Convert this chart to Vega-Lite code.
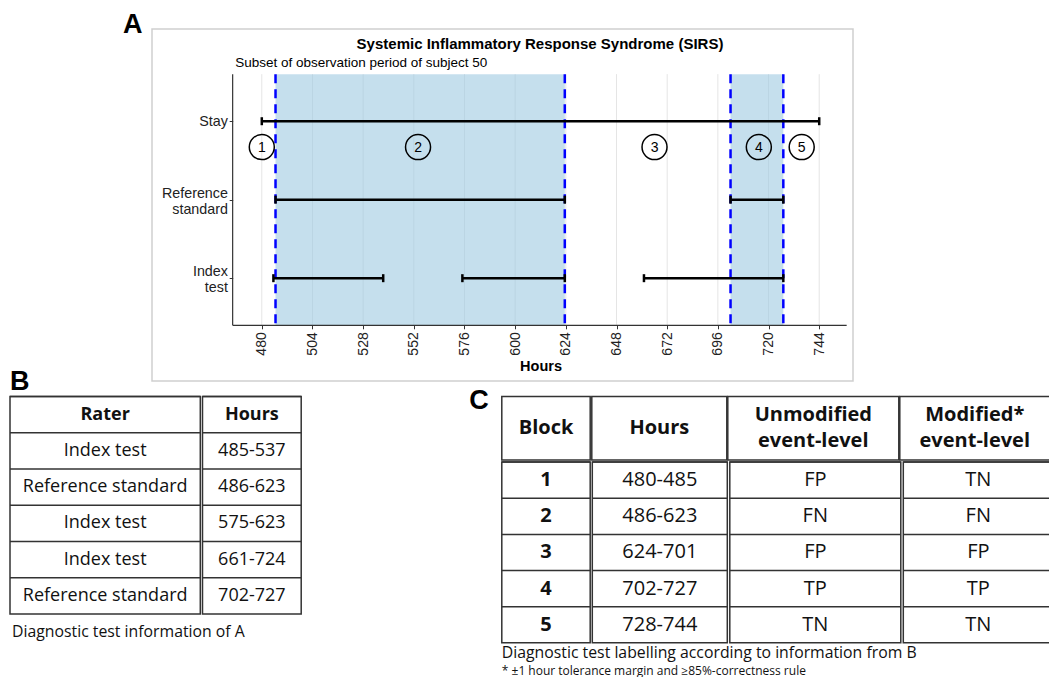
{
  "$schema": "https://vega.github.io/schema/vega-lite/v6.json",
  "background": "white",
  "padding": {"left": 8, "top": 10, "right": 0, "bottom": 0},
  "config": {"view": {"stroke": null}, "font": "Liberation Sans"},
  "datasets": {
    "ticks": [{"hour": 480}, {"hour": 504}, {"hour": 528}, {"hour": 552}, {"hour": 576}, {"hour": 600}, {"hour": 624}, {"hour": 648}, {"hour": 672}, {"hour": 696}, {"hour": 720}, {"hour": 744}],
    "intervals": [
      {"rater": "Stay", "start": 480, "end": 744},
      {"rater": "Reference standard", "start": 486.5, "end": 623.5},
      {"rater": "Reference standard", "start": 702, "end": 727},
      {"rater": "Index test", "start": 485.5, "end": 537.5},
      {"rater": "Index test", "start": 575, "end": 623.5},
      {"rater": "Index test", "start": 661, "end": 727}
    ],
    "blocks": [{"block": "1", "hour": 480}, {"block": "2", "hour": 554}, {"block": "3", "hour": 666}, {"block": "4", "hour": 715.4}, {"block": "5", "hour": 735.7}],
    "tableB": [
      {"r": 0, "rater": "Rater", "hours": "Hours"},
      {"r": 1, "rater": "Index test", "hours": "485-537"},
      {"r": 2, "rater": "Reference standard", "hours": "486-623"},
      {"r": 3, "rater": "Index test", "hours": "575-623"},
      {"r": 4, "rater": "Index test", "hours": "661-724"},
      {"r": 5, "rater": "Reference standard", "hours": "702-727"}
    ],
    "headC": [
      {"col": "block", "label": "Block"},
      {"col": "hours", "label": "Hours"},
      {"col": "unmod", "label": "Unmodified\nevent-level"},
      {"col": "mod", "label": "Modified*\nevent-level"}
    ],
    "tableC": [
      {"block": "1", "hours": "480-485", "unmod": "FP", "mod": "TN"},
      {"block": "2", "hours": "486-623", "unmod": "FN", "mod": "FN"},
      {"block": "3", "hours": "624-701", "unmod": "FP", "mod": "FP"},
      {"block": "4", "hours": "702-727", "unmod": "TP", "mod": "TP"},
      {"block": "5", "hours": "728-744", "unmod": "TN", "mod": "TN"}
    ]
  },
  "spacing": -14.4,
  "vconcat": [
    {
      "spacing": 20,
      "hconcat": [
        {"width": 92, "height": 1, "data": {"values": [{}]}, "mark": {"type": "text", "text": ""}, "encoding": {}, "view": {"stroke": "transparent"}},
        {
          "title": {"text": "A", "anchor": "start", "frame": "group", "dx": -28.9, "offset": -31.65, "baseline": "alphabetic", "font": "Liberation Sans", "fontSize": 27, "fontWeight": "bold", "color": "#000"},
          "vconcat": [
            {
              "width": 701,
              "height": 352,
              "view": {"stroke": "#cfcfcf", "strokeWidth": 1.5},
              "title": {"text": "Systemic Inflammatory Response Syndrome (SIRS)", "anchor": "middle", "frame": "group", "dx": 37.5, "offset": -35.15, "baseline": "alphabetic", "font": "Liberation Sans", "fontSize": 15, "fontWeight": "bold", "color": "#000"},
              "resolve": {"axis": {"x": "independent", "y": "independent"}},
              "layer": [
                {
                  "data": {"name": "ticks"},
                  "mark": {"type": "rule", "color": "#e5e5e5", "strokeWidth": 1},
                  "encoding": {
                    "x": {"field": "hour", "type": "quantitative", "scale": {"domain": [428, 760], "nice": false, "zero": false}, "axis": null},
                    "y": {"datum": 0.4, "type": "quantitative", "scale": {"domain": [-0.175, 4.31], "reverse": true, "nice": false, "zero": false}, "axis": null},
                    "y2": {"datum": 3.6}
                  }
                },
                {
                  "data": {"name": "intervals"},
                  "transform": [{"filter": "datum.rater === 'Reference standard'"}],
                  "mark": {"type": "rect", "color": "#9ecae1", "opacity": 0.6},
                  "encoding": {
                    "x": {"field": "start", "type": "quantitative", "scale": {"domain": [428, 760], "nice": false, "zero": false}, "axis": null},
                    "x2": {"field": "end"},
                    "y": {"datum": 0.4, "type": "quantitative", "scale": {"domain": [-0.175, 4.31], "reverse": true, "nice": false, "zero": false}, "axis": null},
                    "y2": {"datum": 3.6}
                  }
                },
                {
                  "data": {"name": "intervals"},
                  "transform": [{"filter": "datum.rater === 'Reference standard'"}],
                  "mark": {"type": "rule", "color": "#0000ff", "strokeWidth": 2.5, "strokeDash": [9, 6]},
                  "encoding": {
                    "x": {"field": "start", "type": "quantitative", "scale": {"domain": [428, 760], "nice": false, "zero": false}, "axis": null},
                    "y": {"datum": 0.4, "type": "quantitative", "scale": {"domain": [-0.175, 4.31], "reverse": true, "nice": false, "zero": false}, "axis": null},
                    "y2": {"datum": 3.6}
                  }
                },
                {
                  "data": {"name": "intervals"},
                  "transform": [{"filter": "datum.rater === 'Reference standard'"}],
                  "mark": {"type": "rule", "color": "#0000ff", "strokeWidth": 2.5, "strokeDash": [9, 6]},
                  "encoding": {
                    "x": {"field": "end", "type": "quantitative", "scale": {"domain": [428, 760], "nice": false, "zero": false}, "axis": null},
                    "y": {"datum": 0.4, "type": "quantitative", "scale": {"domain": [-0.175, 4.31], "reverse": true, "nice": false, "zero": false}, "axis": null},
                    "y2": {"datum": 3.6}
                  }
                },
                {
                  "data": {"values": [{}]},
                  "mark": {"type": "rule", "color": "#333333", "strokeWidth": 1.2},
                  "encoding": {
                    "x": {"datum": 466.2, "type": "quantitative", "scale": {"domain": [428, 760], "nice": false, "zero": false}, "axis": null},
                    "y": {"datum": 0.4, "type": "quantitative", "scale": {"domain": [-0.175, 4.31], "reverse": true, "nice": false, "zero": false}, "axis": null},
                    "y2": {"datum": 3.6}
                  }
                },
                {
                  "data": {"values": [{}]},
                  "mark": {"type": "rule", "color": "#333333", "strokeWidth": 1.2},
                  "encoding": {
                    "x": {"datum": 466.2, "type": "quantitative", "scale": {"domain": [428, 760], "nice": false, "zero": false}, "axis": null},
                    "x2": {"datum": 757},
                    "y": {"datum": 3.6, "type": "quantitative", "scale": {"domain": [-0.175, 4.31], "reverse": true, "nice": false, "zero": false}, "axis": null}
                  }
                },
                {
                  "data": {"name": "intervals"},
                  "transform": [{"calculate": "indexof(['Stay', 'Reference standard', 'Index test'], datum.rater) + 1", "as": "lane"}],
                  "mark": {"type": "rule", "color": "#000000", "strokeWidth": 2.5},
                  "encoding": {
                    "x": {
                      "field": "start", "type": "quantitative",
                      "scale": {"domain": [428, 760], "nice": false, "zero": false},
                      "axis": {"orient": "bottom", "offset": -55.7, "values": [480, 504, 528, 552, 576, 600, 624, 648, 672, 696, 720, 744], "labelAngle": 270, "labelFont": "Liberation Sans", "labelFontSize": 14, "labelColor": "#222222", "labelPadding": 3, "labelFlush": false, "labelOverlap": false, "tickSize": 3.5, "tickColor": "#333333", "tickWidth": 1, "domain": false, "grid": false, "title": "Hours", "titleFont": "Liberation Sans", "titleFontSize": 14.5, "titleFontWeight": "bold", "titleColor": "#000000", "titleX": 388.5, "titleY": 45.1, "titleBaseline": "alphabetic", "titleAlign": "center"}
                    },
                    "x2": {"field": "end"},
                    "y": {
                      "field": "lane", "type": "quantitative",
                      "scale": {"domain": [-0.175, 4.31], "reverse": true, "nice": false, "zero": false},
                      "axis": {"orient": "left", "offset": -80.7, "values": [1, 2, 3], "labelExpr": "datum.value == 1 ? 'Stay' : datum.value == 2 ? ['Reference', 'standard'] : ['Index', 'test']", "labelOffset": {"condition": {"test": "datum.value != 1", "value": -6.5}, "value": 0}, "labelFont": "Liberation Sans", "labelFontSize": 14.3, "labelColor": "#222222", "labelLineHeight": 16, "labelPadding": 1.8, "labelBound": false, "labelOverlap": false, "labelFlush": false, "tickSize": 3.5, "tickColor": "#333333", "tickWidth": 1, "domain": false, "grid": false, "title": null}
                    }
                  }
                },
                {
                  "data": {"name": "intervals"},
                  "transform": [{"calculate": "indexof(['Stay', 'Reference standard', 'Index test'], datum.rater) + 1", "as": "lane"}],
                  "mark": {"type": "tick", "orient": "vertical", "color": "#000000", "size": 8, "thickness": 2.5, "opacity": 1},
                  "encoding": {
                    "x": {"field": "start", "type": "quantitative", "scale": {"domain": [428, 760], "nice": false, "zero": false}, "axis": null},
                    "y": {"field": "lane", "type": "quantitative", "scale": {"domain": [-0.175, 4.31], "reverse": true, "nice": false, "zero": false}, "axis": null}
                  }
                },
                {
                  "data": {"name": "intervals"},
                  "transform": [{"calculate": "indexof(['Stay', 'Reference standard', 'Index test'], datum.rater) + 1", "as": "lane"}],
                  "mark": {"type": "tick", "orient": "vertical", "color": "#000000", "size": 8, "thickness": 2.5, "opacity": 1},
                  "encoding": {
                    "x": {"field": "end", "type": "quantitative", "scale": {"domain": [428, 760], "nice": false, "zero": false}, "axis": null},
                    "y": {"field": "lane", "type": "quantitative", "scale": {"domain": [-0.175, 4.31], "reverse": true, "nice": false, "zero": false}, "axis": null}
                  }
                },
                {
                  "data": {"name": "blocks"},
                  "mark": {"type": "point", "shape": "circle", "size": 625, "filled": false, "stroke": "#000000", "strokeWidth": 1.5, "opacity": 1},
                  "encoding": {
                    "x": {
                      "field": "hour", "type": "quantitative",
                      "scale": {"domain": [428, 760], "nice": false, "zero": false},
                      "axis": {"orient": "top", "title": "Subset of observation period of subject 50", "labels": false, "ticks": false, "domain": false, "grid": false, "titleX": 82.7, "titleY": 37.5, "titleAlign": "left", "titleAnchor": "start", "titleBaseline": "alphabetic", "titleFont": "Liberation Sans", "titleFontSize": 13.5, "titleFontWeight": "normal", "titleColor": "#000000"}
                    },
                    "y": {"datum": 1.33, "type": "quantitative", "scale": {"domain": [-0.175, 4.31], "reverse": true, "nice": false, "zero": false}, "axis": null}
                  }
                },
                {
                  "data": {"name": "blocks"},
                  "mark": {"type": "text", "font": "Liberation Sans", "fontSize": 14, "color": "#000000", "baseline": "middle", "align": "center", "dy": 0.5},
                  "encoding": {
                    "x": {"field": "hour", "type": "quantitative", "scale": {"domain": [428, 760], "nice": false, "zero": false}, "axis": null},
                    "y": {"datum": 1.33, "type": "quantitative", "scale": {"domain": [-0.175, 4.31], "reverse": true, "nice": false, "zero": false}, "axis": null},
                    "text": {"field": "block"}
                  }
                }
              ]
            }
          ]
        }
      ]
    },
    {
      "spacing": 165.8,
      "hconcat": [
        {
          "title": {"text": "Diagnostic test information of A", "orient": "bottom", "anchor": "start", "frame": "group", "dx": 2, "offset": 22.6, "baseline": "alphabetic", "font": "Open Sans", "fontSize": 15.8, "fontWeight": "normal", "color": "#111111"},
          "vconcat": [
            {
              "title": {"text": "B", "anchor": "start", "frame": "group", "offset": -21.55, "baseline": "alphabetic", "font": "Liberation Sans", "fontSize": 27, "fontWeight": "bold", "color": "#000"},
              "spacing": -1.5,
              "hconcat": [
                {
                  "width": 190.3, "height": 217.3,
                  "data": {"name": "tableB"},
                  "view": {"stroke": "#333333", "strokeWidth": 1.5},
                  "layer": [
                    {"mark": {"type": "rule", "color": "#333333", "strokeWidth": 1.5}, "encoding": {"y": {"field": "r", "type": "ordinal", "bandPosition": 0, "scale": {"type": "band", "paddingInner": 0, "paddingOuter": 0}, "axis": null}}},
                    {"transform": [{"filter": "datum.r > 0"}], "mark": {"type": "text", "font": "Open Sans", "fontSize": 18, "color": "#111111", "baseline": "middle"}, "encoding": {"y": {"field": "r", "type": "ordinal", "bandPosition": 0.5, "scale": {"type": "band", "paddingInner": 0, "paddingOuter": 0}, "axis": null}, "text": {"field": "rater"}}},
                    {"transform": [{"filter": "datum.r == 0"}], "mark": {"type": "text", "font": "Open Sans", "fontSize": 18, "fontWeight": "bold", "color": "#111111", "baseline": "middle"}, "encoding": {"y": {"field": "r", "type": "ordinal", "bandPosition": 0.5, "scale": {"type": "band", "paddingInner": 0, "paddingOuter": 0}, "axis": null}, "text": {"field": "rater"}}}
                  ]
                },
                {
                  "width": 98.7, "height": 217.3,
                  "data": {"name": "tableB"},
                  "view": {"stroke": "#333333", "strokeWidth": 1.5},
                  "layer": [
                    {"mark": {"type": "rule", "color": "#333333", "strokeWidth": 1.5}, "encoding": {"y": {"field": "r", "type": "ordinal", "bandPosition": 0, "scale": {"type": "band", "paddingInner": 0, "paddingOuter": 0}, "axis": null}}},
                    {"transform": [{"filter": "datum.r > 0"}], "mark": {"type": "text", "font": "Open Sans", "fontSize": 18, "color": "#111111", "baseline": "middle"}, "encoding": {"y": {"field": "r", "type": "ordinal", "bandPosition": 0.5, "scale": {"type": "band", "paddingInner": 0, "paddingOuter": 0}, "axis": null}, "text": {"field": "hours"}}},
                    {"transform": [{"filter": "datum.r == 0"}], "mark": {"type": "text", "font": "Open Sans", "fontSize": 18, "fontWeight": "bold", "color": "#111111", "baseline": "middle"}, "encoding": {"y": {"field": "r", "type": "ordinal", "bandPosition": 0.5, "scale": {"type": "band", "paddingInner": 0, "paddingOuter": 0}, "axis": null}, "text": {"field": "hours"}}}
                  ]
                }
              ]
            }
          ]
        },
        {
          "title": {"text": "Diagnostic test labelling according to information from B", "subtitle": "* ±1 hour tolerance margin and ≥85%-correctness rule", "orient": "bottom", "anchor": "start", "frame": "group", "dx": 0, "offset": 14, "baseline": "alphabetic", "font": "Open Sans", "fontSize": 15.8, "fontWeight": "normal", "color": "#111111", "subtitleFont": "Open Sans", "subtitleFontSize": 12, "subtitleColor": "#111111", "subtitlePadding": 1.5},
          "vconcat": [
            {
              "title": {"text": "C", "anchor": "start", "frame": "group", "dx": -32.5, "offset": -39.85, "baseline": "alphabetic", "font": "Liberation Sans", "fontSize": 27, "fontWeight": "bold", "color": "#000"},
              "spacing": -1.5,
              "vconcat": [
                {
                  "spacing": -1.5,
                  "hconcat": [
                    {"width": 88.4, "height": 63.3, "data": {"name": "headC"}, "transform": [{"filter": "datum.col === 'block'"}], "view": {"stroke": "#333333", "strokeWidth": 1.5}, "mark": {"type": "text", "font": "Open Sans", "fontSize": 20, "fontWeight": "bold", "color": "#111111", "baseline": "middle"}, "encoding": {"text": {"field": "label"}}},
                    {"width": 135, "height": 63.3, "data": {"name": "headC"}, "transform": [{"filter": "datum.col === 'hours'"}], "view": {"stroke": "#333333", "strokeWidth": 1.5}, "mark": {"type": "text", "font": "Open Sans", "fontSize": 20, "fontWeight": "bold", "color": "#111111", "baseline": "middle"}, "encoding": {"text": {"field": "label"}}},
                    {"width": 171, "height": 63.3, "data": {"name": "headC"}, "transform": [{"filter": "datum.col === 'unmod'"}], "view": {"stroke": "#333333", "strokeWidth": 1.5}, "mark": {"type": "text", "font": "Open Sans", "fontSize": 20, "fontWeight": "bold", "color": "#111111", "baseline": "middle", "lineBreak": "\n", "lineHeight": 26, "dy": -13}, "encoding": {"text": {"field": "label"}}},
                    {"width": 150, "height": 63.3, "data": {"name": "headC"}, "transform": [{"filter": "datum.col === 'mod'"}], "view": {"stroke": "#333333", "strokeWidth": 1.5}, "mark": {"type": "text", "font": "Open Sans", "fontSize": 20, "fontWeight": "bold", "color": "#111111", "baseline": "middle", "lineBreak": "\n", "lineHeight": 26, "dy": -13}, "encoding": {"text": {"field": "label"}}}
                  ]
                },
                {
                  "spacing": -1.5,
                  "hconcat": [
                    {
                      "width": 88.4, "height": 180.7, "data": {"name": "tableC"}, "view": {"stroke": "#333333", "strokeWidth": 1.5},
                      "layer": [
                        {"mark": {"type": "rule", "color": "#333333", "strokeWidth": 1.5}, "encoding": {"y": {"field": "block", "type": "ordinal", "bandPosition": 0, "scale": {"type": "band", "paddingInner": 0, "paddingOuter": 0}, "axis": null}}},
                        {"mark": {"type": "text", "font": "Open Sans", "fontSize": 20, "fontWeight": "bold", "color": "#111111", "baseline": "middle"}, "encoding": {"y": {"field": "block", "type": "ordinal", "bandPosition": 0.5, "scale": {"type": "band", "paddingInner": 0, "paddingOuter": 0}, "axis": null}, "text": {"field": "block"}}}
                      ]
                    },
                    {
                      "width": 135, "height": 180.7, "data": {"name": "tableC"}, "view": {"stroke": "#333333", "strokeWidth": 1.5},
                      "layer": [
                        {"mark": {"type": "rule", "color": "#333333", "strokeWidth": 1.5}, "encoding": {"y": {"field": "block", "type": "ordinal", "bandPosition": 0, "scale": {"type": "band", "paddingInner": 0, "paddingOuter": 0}, "axis": null}}},
                        {"mark": {"type": "text", "font": "Open Sans", "fontSize": 20, "color": "#111111", "baseline": "middle"}, "encoding": {"y": {"field": "block", "type": "ordinal", "bandPosition": 0.5, "scale": {"type": "band", "paddingInner": 0, "paddingOuter": 0}, "axis": null}, "text": {"field": "hours"}}}
                      ]
                    },
                    {
                      "width": 171, "height": 180.7, "data": {"name": "tableC"}, "view": {"stroke": "#333333", "strokeWidth": 1.5},
                      "layer": [
                        {"mark": {"type": "rule", "color": "#333333", "strokeWidth": 1.5}, "encoding": {"y": {"field": "block", "type": "ordinal", "bandPosition": 0, "scale": {"type": "band", "paddingInner": 0, "paddingOuter": 0}, "axis": null}}},
                        {"mark": {"type": "text", "font": "Open Sans", "fontSize": 20, "color": "#111111", "baseline": "middle"}, "encoding": {"y": {"field": "block", "type": "ordinal", "bandPosition": 0.5, "scale": {"type": "band", "paddingInner": 0, "paddingOuter": 0}, "axis": null}, "text": {"field": "unmod"}}}
                      ]
                    },
                    {
                      "width": 150, "height": 180.7, "data": {"name": "tableC"}, "view": {"stroke": "#333333", "strokeWidth": 1.5},
                      "layer": [
                        {"mark": {"type": "rule", "color": "#333333", "strokeWidth": 1.5}, "encoding": {"y": {"field": "block", "type": "ordinal", "bandPosition": 0, "scale": {"type": "band", "paddingInner": 0, "paddingOuter": 0}, "axis": null}}},
                        {"mark": {"type": "text", "font": "Open Sans", "fontSize": 20, "color": "#111111", "baseline": "middle"}, "encoding": {"y": {"field": "block", "type": "ordinal", "bandPosition": 0.5, "scale": {"type": "band", "paddingInner": 0, "paddingOuter": 0}, "axis": null}, "text": {"field": "mod"}}}
                      ]
                    }
                  ]
                }
              ]
            }
          ]
        }
      ]
    }
  ]
}
